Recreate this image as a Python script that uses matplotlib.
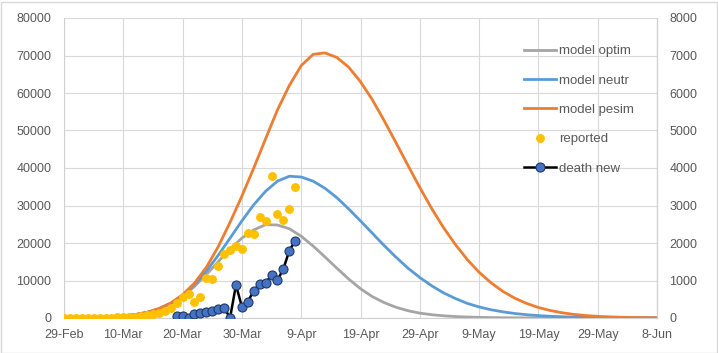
import matplotlib.pyplot as plt
from matplotlib.patches import Rectangle

plt.rcParams['font.family'] = ['Liberation Sans', 'DejaVu Sans']

# x axis = days since 29-Feb-2020
tick_days = [0, 10, 20, 30, 40, 50, 60, 70, 80, 90, 100]
tick_labels = ["29-Feb", "10-Mar", "20-Mar", "30-Mar", "9-Apr", "19-Apr",
               "29-Apr", "9-May", "19-May", "29-May", "8-Jun"]

# model curves, one value every 2 days
model_days = list(range(0, 101, 2))
model_optim = [20, 40, 80, 150, 280, 500, 900, 1500, 2400, 3800,
               5800, 8400, 11600, 15000, 18400, 21300, 23500, 24900, 24800, 23800,
               21800, 19200, 16300, 13300, 10400, 7800, 5700, 4100, 2850, 1950,
               1300, 880, 590, 390, 260, 170, 110, 70, 45, 30,
               20, 14, 10, 7, 5, 4, 3, 2, 2, 2, 2]
model_neutr = [20, 40, 80, 150, 280, 500, 900, 1500, 2450, 3900,
               6000, 8900, 12500, 16700, 21300, 25900, 30200, 33800, 36500, 37800,
               37600, 36500, 34600, 32100, 29100, 25900, 22600, 19300, 16200, 13300,
               10800, 8600, 6700, 5200, 3900, 2950, 2200, 1650, 1200, 880,
               640, 460, 330, 240, 170, 120, 85, 60, 42, 30, 20]
model_pesim = [20, 40, 80, 150, 280, 500, 900, 1500, 2500, 4000,
               6200, 9300, 13500, 19000, 25500, 32500, 40000, 47800, 55500, 62000,
               67300, 70300, 70700, 69500, 66900, 63000, 58200, 52600, 46700, 40700,
               34800, 29200, 24100, 19600, 15600, 12200, 9400, 7100, 5300, 3900,
               2800, 2000, 1400, 950, 650, 440, 300, 200, 130, 90, 60]

# reported daily cases, 29-Feb .. 8-Apr
reported_days = list(range(0, 40))
reported = [0, 10, 20, 20, 30, 60, 80, 120, 120, 150,
            250, 300, 400, 500, 700, 1000, 1300, 2000, 2800, 4100,
            5500, 6500, 4300, 5500, 10600, 10300, 14000, 17000, 18100, 19200,
            18300, 22700, 22500, 27000, 26000, 38000, 27800, 26200, 29000, 35000]

# daily deaths (right axis), 19-Mar .. 8-Apr
death_days = list(range(19, 40))
death_new = [65, 65, 0, 110, 125, 150, 185, 240, 280, 0,
             880, 300, 435, 730, 900, 925, 1160, 1010, 1310, 1800, 2060]

fig = plt.figure(figsize=(7.18, 3.53), dpi=100)
ax = fig.add_axes([64 / 718, 35 / 353, 593 / 718, 300 / 353])

ax.plot(model_days, model_optim, color='#A5A5A5', lw=2, label='model optim', zorder=3)
ax.plot(model_days, model_neutr, color='#5B9BD5', lw=2, label='model neutr', zorder=3)
ax.plot(model_days, model_pesim, color='#ED7D31', lw=2, label='model pesim', zorder=3)
ax.plot(reported_days, reported, 'o', color='#FFC000', ms=6.4, mew=0,
        label='reported', zorder=4)

ax.set_xlim(0, 100)
ax.set_ylim(0, 80000)
ax.set_xticks(tick_days)
ax.set_xticklabels(tick_labels)
ax.set_yticks(range(0, 80001, 10000))
ax.grid(True, color='#D9D9D9', lw=0.8)
ax.set_axisbelow(True)
ax.tick_params(length=0, labelcolor='#595959', labelsize=9)
ax.tick_params(axis='y', pad=9)
ax.tick_params(axis='x', pad=8)
for s in ax.spines.values():
    s.set_color('#D0D0D0')
ax.spines['top'].set_visible(False)

ax2 = ax.twinx()
ax2.plot(death_days, death_new, '-o', color='black', lw=1.8, mfc='#4472C4',
         mec='#1F3864', ms=6.5, mew=0.8, label='death new', zorder=5)
ax2.set_ylim(0, 8000)
ax2.set_yticks(range(0, 8001, 1000))
ax2.tick_params(length=0, labelcolor='#595959', labelsize=9, pad=9)
for side in ['left', 'top', 'bottom']:
    ax2.spines[side].set_visible(False)
ax2.spines['right'].set_color('#D0D0D0')

h1, l1 = ax.get_legend_handles_labels()
h2, l2 = ax2.get_legend_handles_labels()
ax2.legend(h1 + h2, l1 + l2, loc='upper left',
           bbox_to_anchor=(524 / 718, 1 - 45 / 353), bbox_transform=fig.transFigure,
           frameon=False, fontsize=9.5, labelcolor='#595959', handlelength=2.4,
           handletextpad=0.25, labelspacing=1.3, borderaxespad=0, borderpad=0)

fig.patches.append(Rectangle((0.5 / 718, 0.5 / 353), 716 / 718, 351 / 353,
                             transform=fig.transFigure, fill=False,
                             ec='#D9D9D9', lw=1))

fig.savefig('out.png', dpi=100)
